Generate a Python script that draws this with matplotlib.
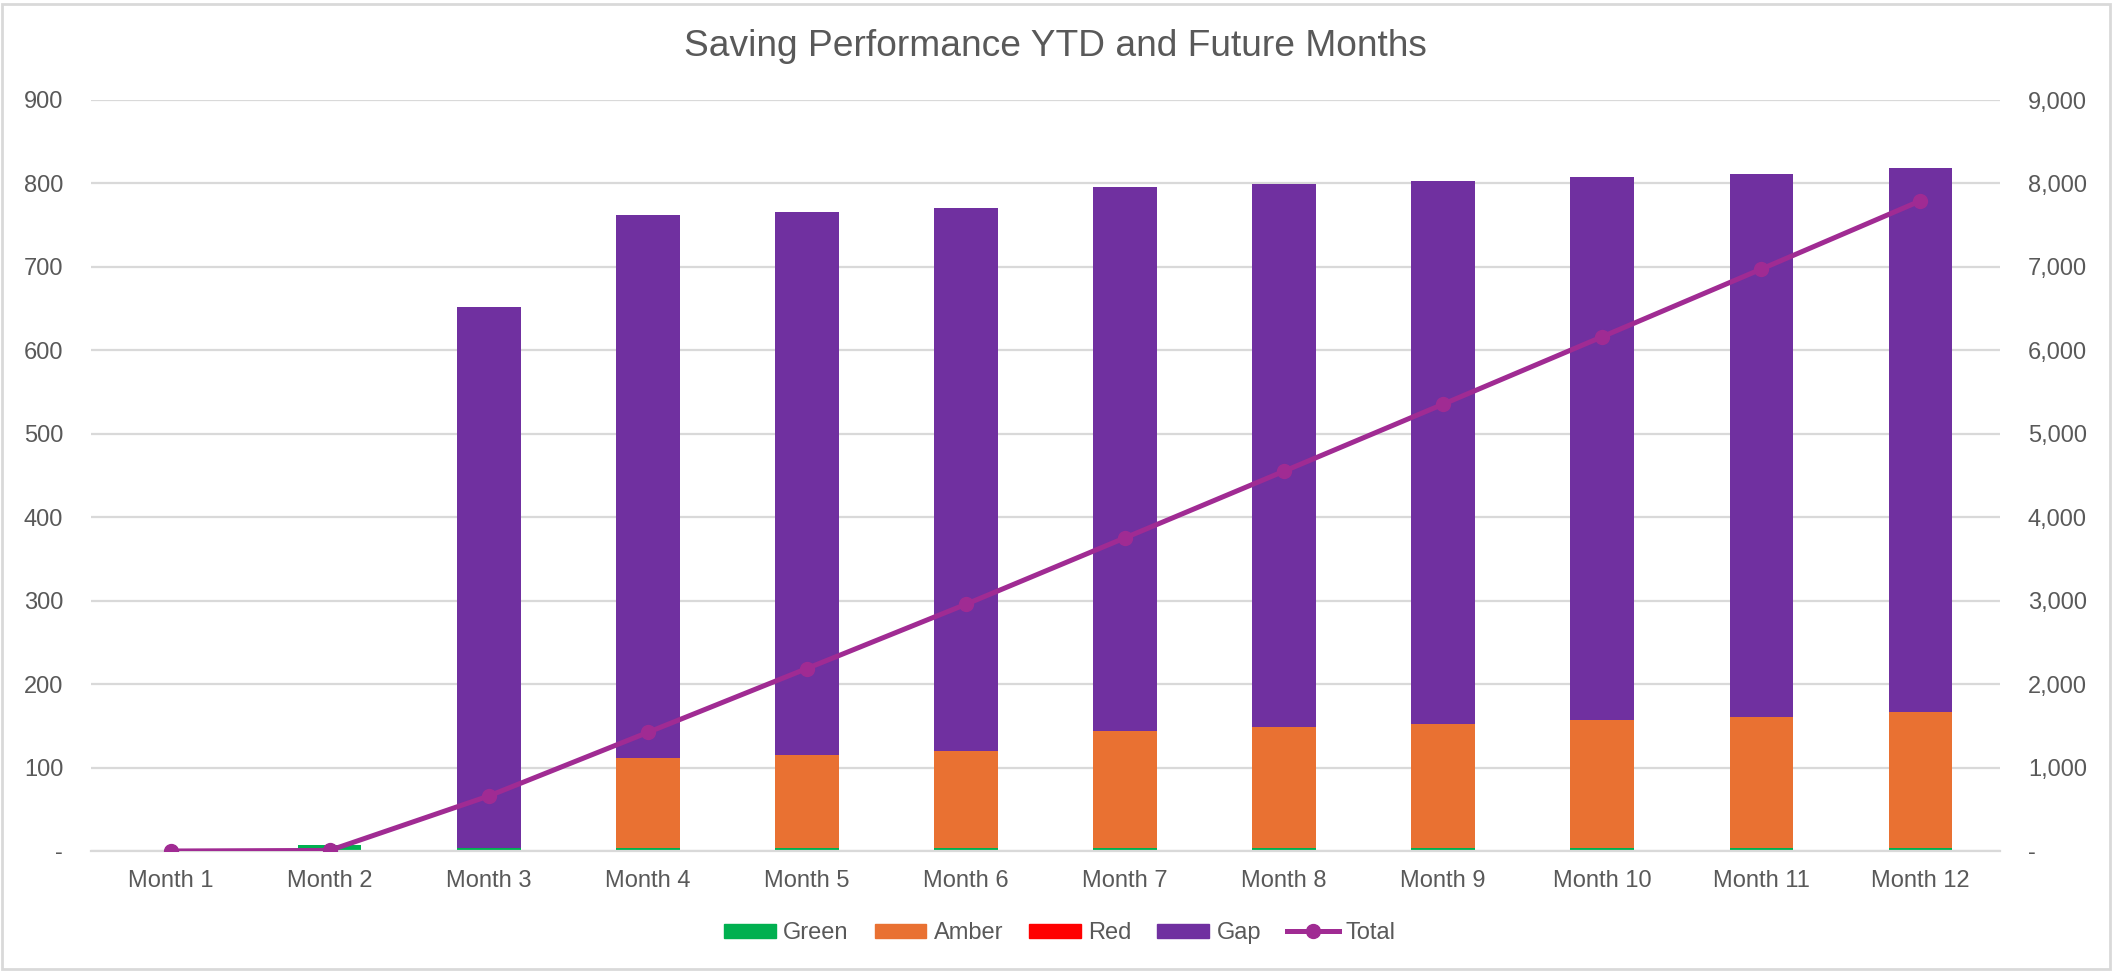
import matplotlib
matplotlib.use("Agg")
import matplotlib.pyplot as plt
import numpy as np
from matplotlib.patches import Rectangle, Patch
from matplotlib.lines import Line2D
from matplotlib.ticker import FixedLocator, FuncFormatter

plt.rcParams['font.family'] = ['Liberation Sans', 'DejaVu Sans']

months = ["Month 1", "Month 2", "Month 3", "Month 4", "Month 5", "Month 6",
          "Month 7", "Month 8", "Month 9", "Month 10", "Month 11", "Month 12"]
green = [0, 7, 3, 3, 3, 3, 3, 3, 3, 3, 3, 3]
amber = [0, 0, 0, 109, 112, 117, 141, 146, 149, 154, 157, 164]
red = [0, 0, 0, 0, 0, 0, 0, 0, 0, 0, 0, 0]
gap = [0, 0, 649, 650, 651, 650, 652, 650, 651, 651, 651, 651]
total = [0, 7, 659, 1421, 2187, 2957, 3753, 4552, 5355, 6163, 6974, 7792]

C_GREEN = "#00B050"
C_AMBER = "#E97132"
C_RED = "#FF0000"
C_GAP = "#7030A0"
C_TOTAL = "#A02B93"
TXT = "#595959"
GRID = "#D9D9D9"

W, H = 2113, 973
fig = plt.figure(figsize=(W / 100, H / 100), dpi=100)
fig.patch.set_facecolor("white")
fig.patches.append(Rectangle((2 / W, 4 / H), (W - 5) / W, (H - 8) / H,
                             transform=fig.transFigure, fill=False,
                             edgecolor=GRID, linewidth=2))

left, right, bottom, top = 91, 2000, 851, 100
ax = fig.add_axes([left / W, 1 - bottom / H, (right - left) / W, (bottom - top) / H])
ax2 = ax.twinx()

x = np.arange(len(months))
bw = 0.40
g = np.array(green); a = np.array(amber); r = np.array(red); p = np.array(gap)
ax.bar(x, g, bw, color=C_GREEN, zorder=2)
ax.bar(x, a, bw, bottom=g, color=C_AMBER, zorder=2)
ax.bar(x, r, bw, bottom=g + a, color=C_RED, zorder=2)
ax.bar(x, p, bw, bottom=g + a + r, color=C_GAP, zorder=2)

ax2.plot(x, total, color=C_TOTAL, linewidth=3.6, marker='o', markersize=10, zorder=3)

ax.set_xlim(-0.5, len(months) - 0.5)
ax.set_ylim(0, 900)
ax2.set_ylim(0, 9000)
ax.yaxis.set_major_locator(FixedLocator(np.arange(0, 901, 100)))
ax2.yaxis.set_major_locator(FixedLocator(np.arange(0, 9001, 1000)))
ax.yaxis.set_major_formatter(FuncFormatter(lambda v, pos: "-" if v == 0 else f"{int(v):,}"))
ax2.yaxis.set_major_formatter(FuncFormatter(lambda v, pos: "-" if v == 0 else f"{int(v):,}"))

ax.set_xticks(x)
ax.set_xticklabels(months)
ax.grid(axis='y', color=GRID, linewidth=1.6, zorder=0)
ax.set_axisbelow(True)
for s in ax.spines.values():
    s.set_visible(False)
for s in ax2.spines.values():
    s.set_visible(False)
ax.spines['bottom'].set_visible(True)
ax.spines['bottom'].set_color(GRID)
ax.spines['bottom'].set_linewidth(1.6)

ax.tick_params(axis='x', length=0, pad=14, labelsize=17, labelcolor=TXT)
ax.tick_params(axis='y', length=0, pad=20, labelsize=17, labelcolor=TXT)
ax2.tick_params(axis='y', length=0, pad=20, labelsize=17, labelcolor=TXT)

fig.text(1055 / W, 1 - 47 / H, "Saving Performance YTD and Future Months",
         ha='center', va='center', fontsize=26.7, color=TXT)

handles = [Patch(color=C_GREEN, label="Green"),
           Patch(color=C_AMBER, label="Amber"),
           Patch(color=C_RED, label="Red"),
           Patch(color=C_GAP, label="Gap"),
           Line2D([0], [0], color=C_TOTAL, linewidth=3.6, marker='o', markersize=10, label="Total")]
leg = fig.legend(handles=handles, loc='center', bbox_to_anchor=(1060 / W, 1 - 933 / H),
                 ncol=5, frameon=False, fontsize=17, handlelength=2.2, handleheight=0.55,
                 handletextpad=0.3, columnspacing=1.1)
for t in leg.get_texts():
    t.set_color(TXT)

fig.savefig("out.png", dpi=100)
